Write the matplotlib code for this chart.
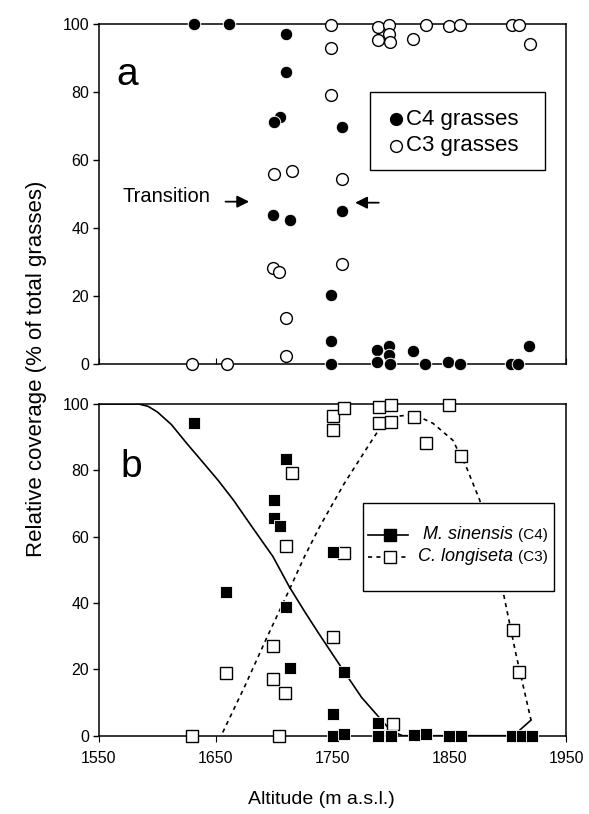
import numpy as np
import matplotlib
matplotlib.use("Agg")
import matplotlib.pyplot as plt
from matplotlib.patches import Rectangle

plt.rcParams['font.family'] = ['Liberation Sans', 'DejaVu Sans']

# panel a : relative coverage of C4 / C3 grasses
alt_c4a = [1631, 1661, 1710, 1710, 1705, 1700, 1699, 1714, 1758, 1758, 1749, 1749, 1749,
           1788, 1798, 1798, 1788, 1799, 1819, 1829, 1849, 1859, 1903, 1909, 1918]
c4a = [100, 100, 97, 86, 72.7, 71.2, 43.8, 42.3, 69.8, 44.9, 20.2, 6.8, 0,
       4.0, 5.3, 2.6, 0.6, 0, 3.8, 0, 0.5, 0, 0, 0, 5.2]
alt_c3a = [1630, 1660, 1700, 1715, 1699, 1704, 1710, 1710, 1749, 1749, 1749, 1758, 1758,
           1789, 1798, 1789, 1798, 1799, 1819, 1830, 1850, 1859, 1904, 1910, 1919]
c3a = [0, 0, 55.8, 56.8, 28.1, 26.9, 13.5, 2.4, 99.7, 92.8, 79.1, 54.5, 29.3,
       99.2, 99.7, 95.3, 97.1, 94.6, 95.5, 99.7, 99.5, 99.7, 99.7, 99.7, 94.0]

# panel b : M. sinensis (C4) and C. longiseta (C3)
alt_ms = [1631, 1659, 1710, 1700, 1700, 1705, 1710, 1714, 1750, 1760, 1750, 1750, 1760,
          1789, 1789, 1800, 1820, 1830, 1850, 1860, 1904, 1912, 1921]
ms = [94.4, 43.4, 83.4, 71.1, 65.7, 63.2, 38.7, 20.5, 55.5, 19.3, 6.5, 0, 0.5,
      3.9, 0, 0, 0.3, 0.5, 0, 0, 0, 0, 0]
alt_cl = [1630, 1659, 1704, 1699, 1699, 1709, 1710, 1715, 1750, 1750, 1760, 1760, 1750,
          1790, 1800, 1790, 1800, 1820, 1850, 1830, 1860, 1802, 1905, 1910]
cl = [0, 18.8, 0, 27.0, 17.1, 12.8, 57.2, 79.3, 96.4, 92.2, 98.7, 55, 29.8,
      99.2, 99.7, 94.2, 94.5, 96.0, 99.7, 88.2, 84.3, 3.5, 31.9, 19.3]

# fitted curves
fit_alt_ms = [1550, 1584, 1592, 1600, 1612, 1625, 1640, 1652, 1665, 1680, 1699, 1713, 1726,
              1739, 1760, 1775, 1792, 1800, 1810, 1905, 1920]
fit_ms = [100, 100, 99.3, 97.6, 93.8, 88.2, 82, 77, 71.1, 63.5, 54.0, 44.9, 37.5,
          30.4, 19.3, 11.5, 4.7, 1.5, 0, 0, 4.7]
fit_alt_cl = [1656, 1675, 1693, 1713, 1726, 1739, 1760, 1780, 1792, 1805, 1820, 1836, 1853, 1864.5,
              1876, 1887, 1897, 1907, 1920]
fit_cl = [1, 15, 29, 44, 54, 63, 76, 87, 93.5, 96.3, 96.8, 94.2, 89.1, 81.1,
          71.1, 58, 41.9, 24.8, 4.7]

fig = plt.figure(figsize=(5.89, 8.14), dpi=100)
W, H = 589, 814
axa = fig.add_axes([99 / W, 1 - 363.7 / H, 467 / W, 339.7 / H])
axb = fig.add_axes([99 / W, 1 - 735.7 / H, 467 / W, 331.7 / H])

for ax in (axa, axb):
    ax.set_xlim(1550, 1950)
    ax.set_ylim(0, 100)
    ax.set_yticks(range(0, 101, 20))
    ax.set_xticks(range(1550, 1951, 100))
    ax.tick_params(axis='y', direction='out', length=4, width=1, pad=3, labelsize=11.5)
    for s in ax.spines.values():
        s.set_linewidth(1.1)

axa.tick_params(axis='x', direction='in', length=4, labelbottom=False)
axb.tick_params(axis='x', direction='out', length=4, pad=7, labelsize=11.5)

# panel a
axa.plot(alt_c3a, c3a, 'o', ms=8.5, mfc='white', mec='black', mew=1.0, clip_on=False, zorder=3)
axa.plot(alt_c4a, c4a, 'o', ms=9, mfc='black', mec='white', mew=0.7, clip_on=False, zorder=4)
axa.text(1574, 85, 'a', fontsize=28, ha='center', va='center')
axa.text(1645, 49.1, 'Transition', fontsize=14.5, ha='right', va='center')
axa.annotate('', xy=(1681, 47.7), xytext=(1656, 47.7),
             arrowprops=dict(arrowstyle='-|>', color='black', lw=1.3, mutation_scale=18))
axa.annotate('', xy=(1767, 47.4), xytext=(1792, 47.4),
             arrowprops=dict(arrowstyle='-|>', color='black', lw=1.3, mutation_scale=18))

# legend a (drawn by hand)
axa.add_patch(Rectangle((0.580, 0.570), 0.375, 0.231, transform=axa.transAxes,
                        facecolor='white', edgecolor='black', lw=1.0, zorder=5))
axa.plot([0.637], [0.719], 'o', ms=8.5, mfc='black', mec='black', transform=axa.transAxes, zorder=6)
axa.plot([0.637], [0.642], 'o', ms=8.5, mfc='white', mec='black', mew=1.0, transform=axa.transAxes, zorder=6)
axa.text(0.657, 0.719, 'C4 grasses', fontsize=16, va='center', transform=axa.transAxes, zorder=6)
axa.text(0.657, 0.642, 'C3 grasses', fontsize=16, va='center', transform=axa.transAxes, zorder=6)

# panel b
axb.plot(fit_alt_ms, fit_ms, '-', color='black', lw=1.2, zorder=2)
axb.plot(fit_alt_cl, fit_cl, color='black', lw=1.2, dashes=(2.5, 2.5), zorder=2)
axb.plot(alt_cl, cl, 's', ms=8, mfc='white', mec='black', mew=1.0, clip_on=False, zorder=3)
axb.plot(alt_ms, ms, 's', ms=8.5, mfc='black', mec='white', mew=0.6, clip_on=False, zorder=4)
axb.text(1578, 80.9, 'b', fontsize=28, ha='center', va='center')

# legend b (drawn by hand)
axb.add_patch(Rectangle((0.566, 0.436), 0.409, 0.266, transform=axb.transAxes,
                        facecolor='white', edgecolor='black', lw=1.0, zorder=5))
axb.plot([0.577, 0.623, 0.662], [0.606, 0.606, 0.606], '-', color='black', lw=1.2,
         marker='s', markevery=[1], ms=8, mfc='black', mec='black', transform=axb.transAxes, zorder=6)
axb.plot([0.577, 0.623, 0.662], [0.539, 0.539, 0.539], color='black', lw=1.2, dashes=(2.5, 2.5),
         marker='s', markevery=[1], ms=8, mfc='white', mec='black', mew=1.0,
         transform=axb.transAxes, zorder=6)
for yy, name, grp in [(0.606, 'M. sinensis ', '(C4)'), (0.539, 'C. longiseta ', '(C3)')]:
    t = axb.text(0.962, yy, grp, fontsize=11, ha='right', va='center', transform=axb.transAxes, zorder=6)
    axb.annotate(name, xy=(0, 0.5), xycoords=t, fontsize=13, style='italic',
                 ha='right', va='center', zorder=6)

fig.text(37 / W, 1 - 369 / H, 'Relative coverage (% of total grasses)', rotation=90,
         fontsize=16, ha='center', va='center')
fig.text(321 / W, 1 - 800 / H, 'Altitude (m a.s.l.)', fontsize=14, ha='center', va='center')

fig.savefig('out.png', dpi=100)
